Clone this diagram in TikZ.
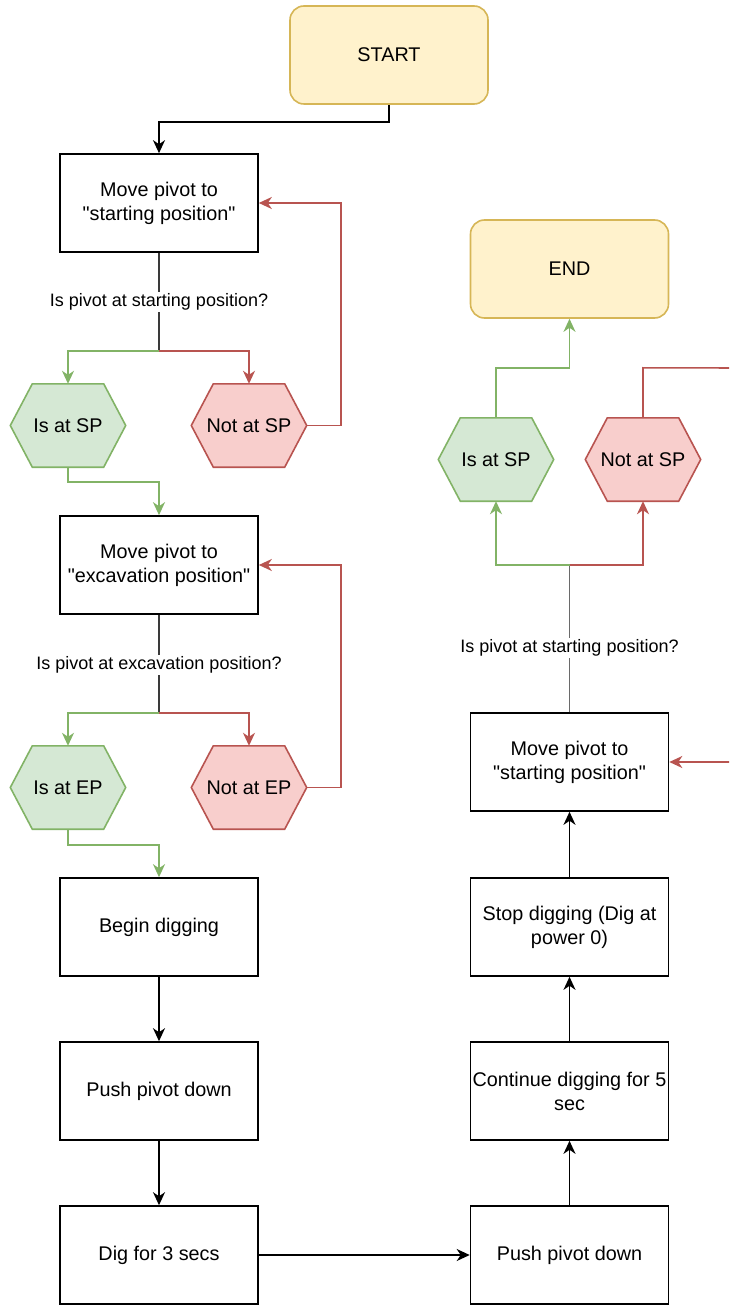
\documentclass[tikz,border=0pt]{standalone}
\usepackage{fontspec}
\setmainfont{Liberation Sans}[Ligatures=TeXOff]
\usetikzlibrary{arrows.meta,calc}

\definecolor{termfill}{HTML}{FFF2CC}
\definecolor{termline}{HTML}{D6B656}
\definecolor{okfill}{HTML}{D5E8D4}
\definecolor{okline}{HTML}{82B366}
\definecolor{badfill}{HTML}{F8CECC}
\definecolor{badline}{HTML}{B85450}
\definecolor{trunkdark}{HTML}{3A3A3A}
\definecolor{trunklight}{HTML}{6A6A6A}

\tikzset{
  x=1pt, y=-1pt,
  boxfont/.style={font=\fontsize{19.8}{24}\selectfont},
  stepbox/.style={boxfont, draw=black, fill=white, line width=1.6pt,
    minimum width=198pt, minimum height=98pt, inner sep=0pt, align=center},
  termbox/.style={stepbox, draw=termline, fill=termfill, rounded corners=14pt},
  hexbase/.style={minimum width=115pt, minimum height=83pt, inner sep=0pt},
  hextext/.style={boxfont, inner sep=0pt},
  question/.style={font=\fontsize{18}{22}\selectfont, fill=white, inner sep=2pt},
  tip/.style={-{Stealth[length=13pt,width=12pt,inset=4pt]}},
  flow/.style={tip, line width=1.6pt, draw=black},
  okflow/.style={tip, line width=1.6pt, draw=okline},
  badflow/.style={tip, line width=1.6pt, draw=badline},
}

% hexagon decision node: name, position, fill, line colour, text
\newcommand\hexstep[5]{%
  \node[hexbase] (#1) at (#2) {};
  \filldraw[fill=#3, draw=#4, line width=1.6pt, line join=miter]
    (#1.west) -- ([xshift=22pt]#1.north west) -- ([xshift=-22pt]#1.north east)
    -- (#1.east) -- ([xshift=-22pt]#1.south east) -- ([xshift=22pt]#1.south west) -- cycle;
  \node[hextext] (#1-label) at (#1) {#5};
}

\begin{document}
\begin{tikzpicture}
\useasboundingbox (0,0) rectangle (729,1305);
\clip (0,0) rectangle (729,1305);

% ---- left column ----
\node[termbox] (start) at (389,55) {START};
\node[stepbox] (mv1) at (159,203) {Move pivot to\\"starting position"};
\node[stepbox] (mv2) at (159,565) {Move pivot to\\"excavation position"};
\node[stepbox] (dig) at (159,927) {Begin digging};
\node[stepbox] (push1) at (159,1091) {Push pivot down};
\node[stepbox] (dig3) at (159,1255) {Dig for 3 secs};

\hexstep{sp1}{68,425.5}{okfill}{okline}{Is at SP}
\hexstep{nsp1}{249,425.5}{badfill}{badline}{Not at SP}
\hexstep{ep1}{68,787.5}{okfill}{okline}{Is at EP}
\hexstep{nep1}{249,787.5}{badfill}{badline}{Not at EP}

\coordinate (split1) at (159,351);
\coordinate (split2) at (159,713);

% ---- right column ----
\node[termbox] (end) at (569.5,269) {END};
\node[stepbox] (mv3) at (569.5,762) {Move pivot to\\"starting position"};
\node[stepbox] (stop) at (569.5,927) {Stop digging (Dig at\\power 0)};
\node[stepbox] (cont) at (569.5,1091) {Continue digging for 5\\sec};
\node[stepbox] (push2) at (569.5,1255) {Push pivot down};

\hexstep{sp2}{496,459.5}{okfill}{okline}{Is at SP}
\hexstep{nsp2}{643,459.5}{badfill}{badline}{Not at SP}

\coordinate (split3) at (569.5,565);
\coordinate (offtop) at (745,368);
\coordinate (offside) at (745,762);

% ---- connectors: first check ----
\draw[flow] (start.south) -- ++(0,17) -| (mv1.north);
\draw[line width=1.6pt, draw=trunkdark] (mv1.south) -- (split1);
\node[question] (q1) at (159,302) {Is pivot at starting position?};
\draw[okflow] (split1) -| (sp1.north);
\draw[badflow] (split1) -| (nsp1.north);
\draw[badflow] (nsp1.east) -- ++(34,0) |- (mv1.east);
\draw[okflow] (sp1.south) -- ++(0,15) -| (mv2.north);

% ---- second check ----
\draw[line width=1.6pt, draw=trunkdark] (mv2.south) -- (split2);
\node[question] (q2) at (159,665) {Is pivot at excavation position?};
\draw[okflow] (split2) -| (ep1.north);
\draw[badflow] (split2) -| (nep1.north);
\draw[badflow] (nep1.east) -- ++(34,0) |- (mv2.east);
\draw[okflow] (ep1.south) -- ++(0,16) -| (dig.north);

% ---- digging sequence ----
\draw[flow] (dig.south) -- (push1.north);
\draw[flow] (push1.south) -- (dig3.north);
\draw[flow] (dig3.east) -- (push2.west);
\draw[flow] (push2.north) -- (cont.south);
\draw[flow] (cont.north) -- (stop.south);
\draw[flow] (stop.north) -- (mv3.south);

% ---- final check ----
\draw[line width=1.8pt, draw=trunklight] (mv3.north) -- (split3);
\node[question] (q3) at (569.5,648) {Is pivot at starting position?};
\draw[okflow] (split3) -| (sp2.south);
\draw[badflow] (split3) -| (nsp2.south);
\draw[okflow] (sp2.north) -- ++(0,-50) -| (end.south);
\draw[line width=1.6pt, draw=badline] (nsp2.north) -- ++(0,-50) -- (offtop);
\draw[badflow] (offside) -- (mv3.east);
\end{tikzpicture}
\end{document}
